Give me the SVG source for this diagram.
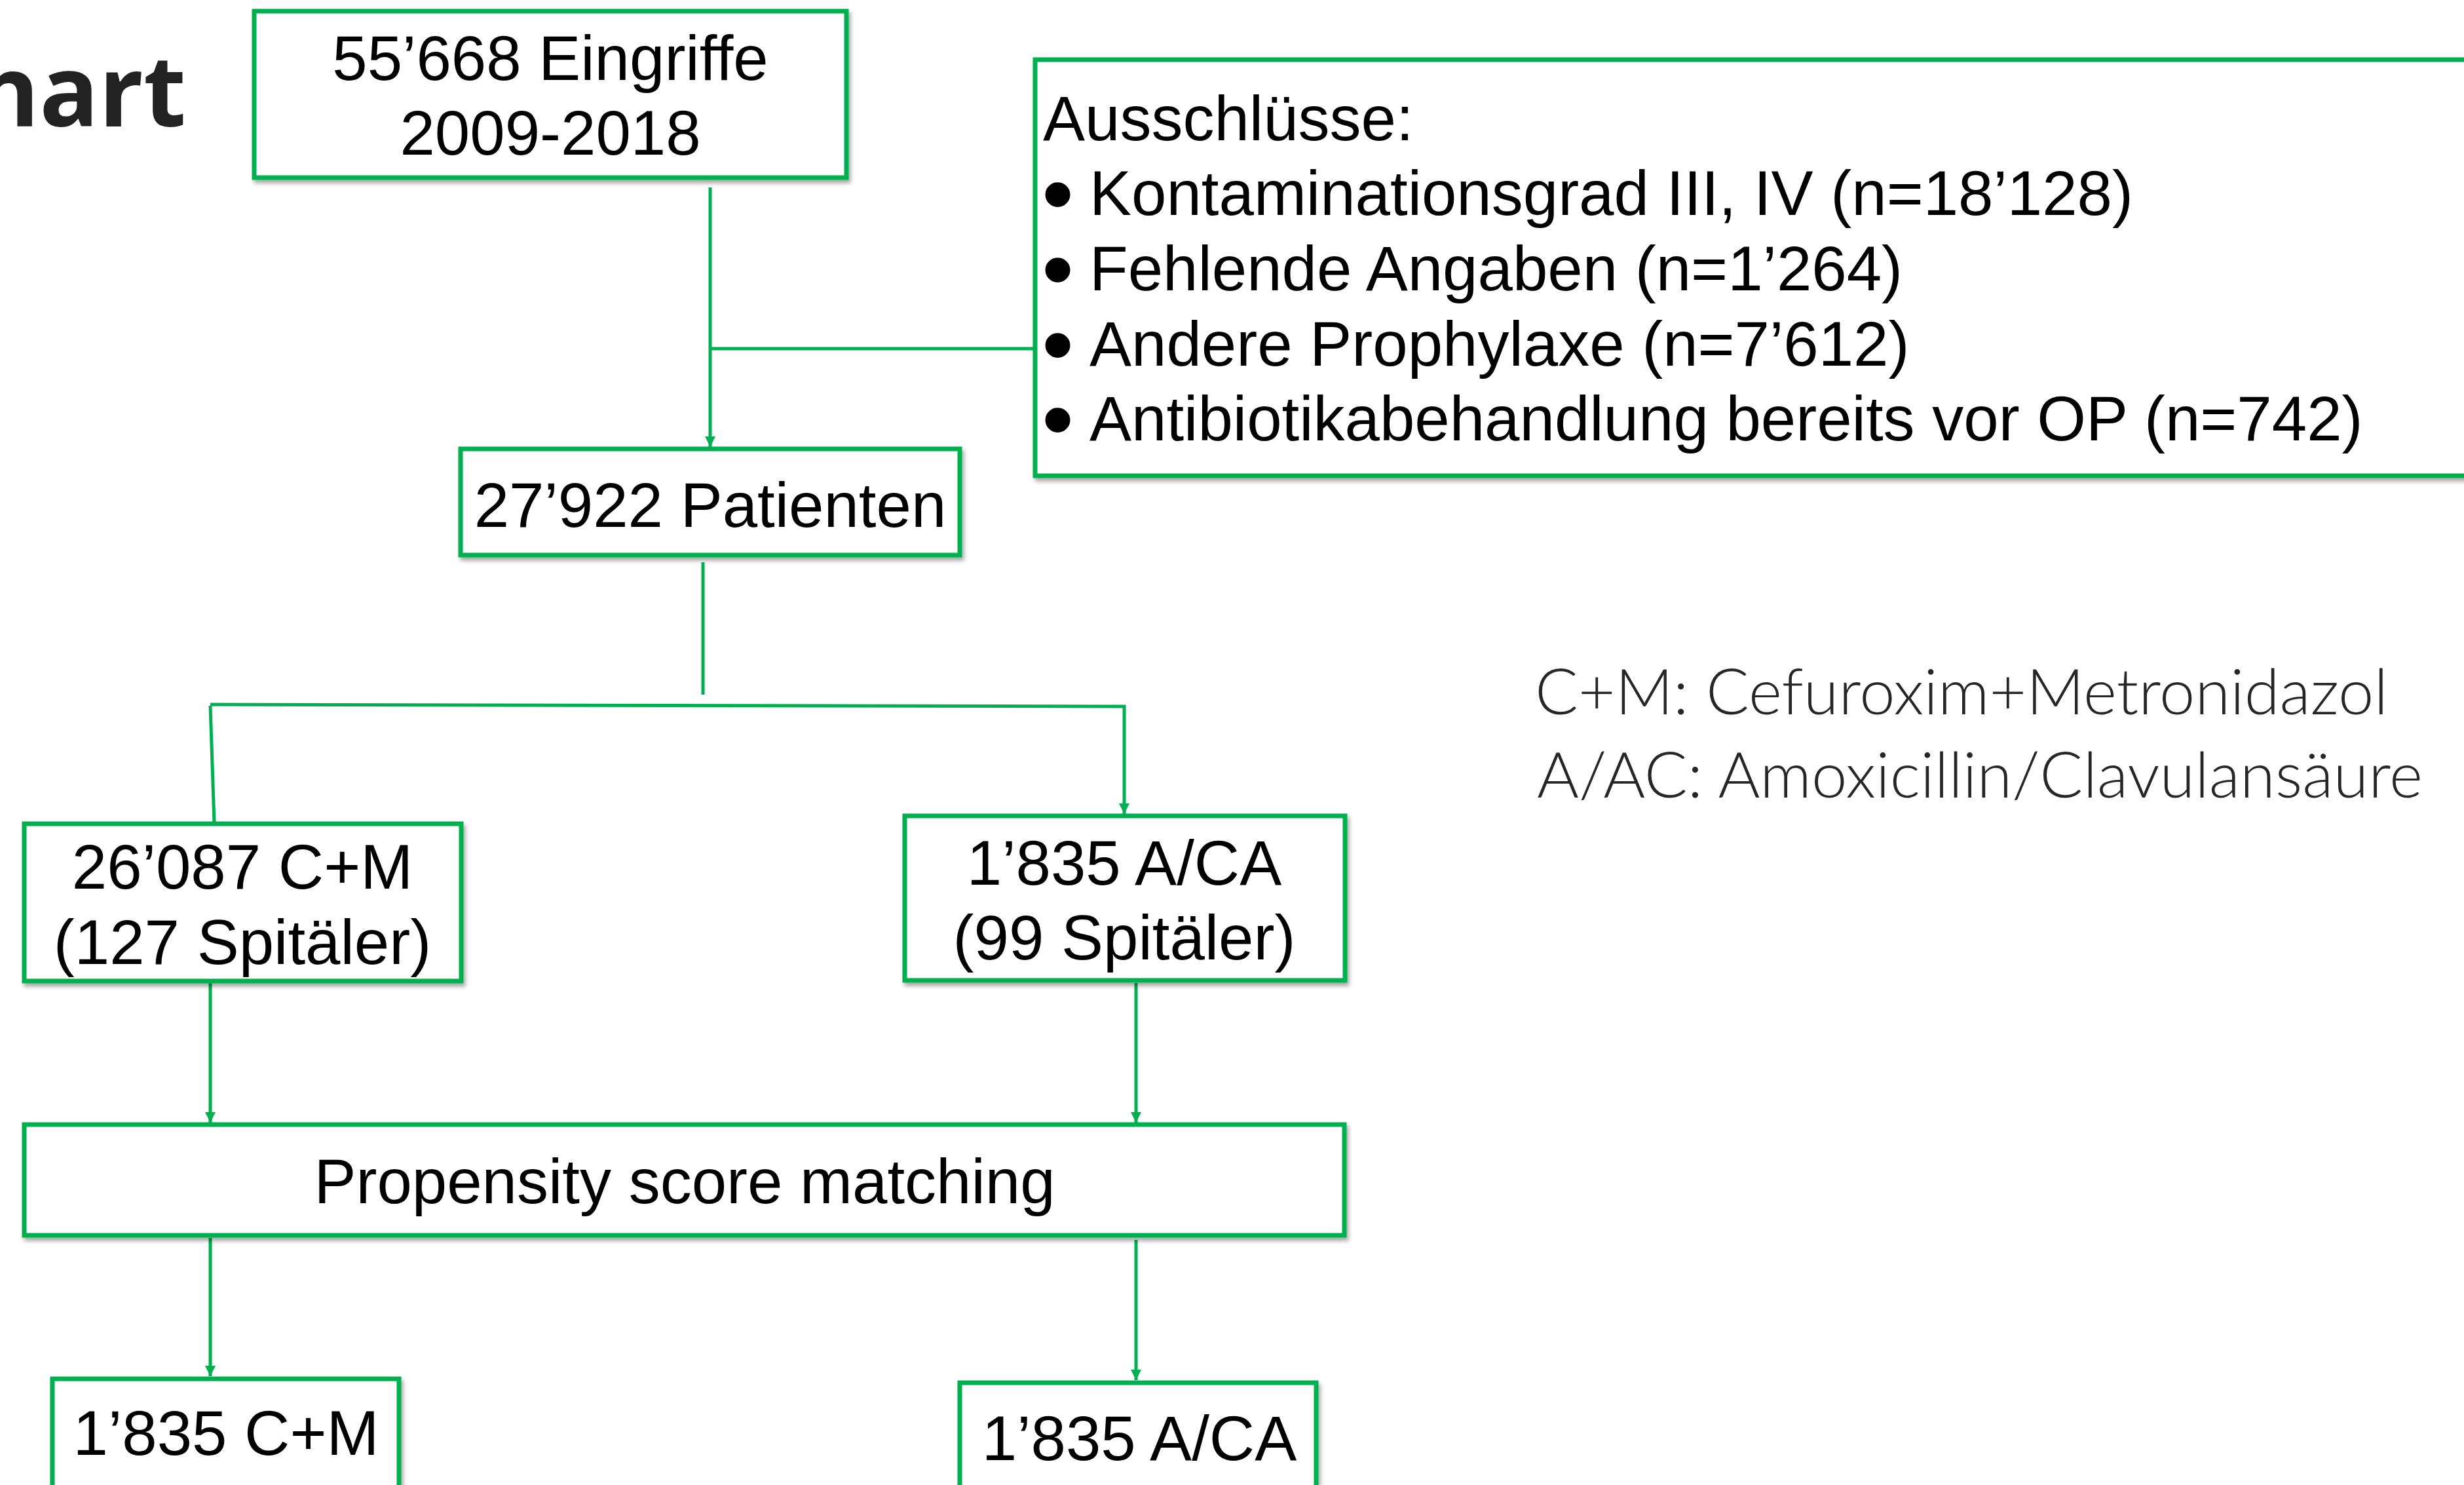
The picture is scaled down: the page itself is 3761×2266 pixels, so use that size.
<svg xmlns="http://www.w3.org/2000/svg" width="3761" height="2266" viewBox="0 0 3761 2266">
<style>
.box{fill:#ffffff;stroke:#00B050;stroke-width:7;filter:url(#sh)}
.t{font-family:"Liberation Sans",Arial,sans-serif;font-size:96px;fill:#000000}
.b{font-size:140px}
.c{text-anchor:middle}
.ln{fill:none;stroke:#00B050;stroke-width:5}
.leg{font-family:Lato,"Open Sans",sans-serif;font-weight:300;font-size:96px;fill:#262626}
.title{font-family:"Open Sans","Liberation Sans",sans-serif;font-weight:700;font-size:150px;fill:#222222}
</style>
<defs>
<filter id="sh" x="-5%" y="-10%" width="110%" height="130%">
<feDropShadow dx="3" dy="5" stdDeviation="3" flood-color="#000000" flood-opacity="0.35"/>
</filter>
<marker id="ah" viewBox="0 0 10 10" refX="10" refY="5" markerWidth="3.2" markerHeight="3.2" orient="auto" markerUnits="strokeWidth">
<path d="M0,0 L10,5 L0,10 z" fill="#00B050"/>
</marker>
</defs>
<rect width="3761" height="2266" fill="#ffffff"/>
<text class="title" x="284" y="193" text-anchor="end">hart</text>

<g id="connectors">
<line class="ln" x1="1084" y1="286" x2="1084" y2="682" marker-end="url(#ah)"/>
<line class="ln" x1="1084" y1="532" x2="1580" y2="532"/>
<line class="ln" x1="1073" y1="858" x2="1073" y2="1060"/>
<polyline class="ln" points="321,1075 1716,1078 1716,1242" marker-end="url(#ah)"/>
<line class="ln" x1="321" y1="1077" x2="327" y2="1256"/>
<line class="ln" x1="321" y1="1500" x2="321" y2="1713" marker-end="url(#ah)"/>
<line class="ln" x1="1734" y1="1500" x2="1734" y2="1713" marker-end="url(#ah)"/>
<line class="ln" x1="321" y1="1889" x2="321" y2="2100" marker-end="url(#ah)"/>
<line class="ln" x1="1734" y1="1892" x2="1734" y2="2106" marker-end="url(#ah)"/>
</g>

<g id="n-eingriffe">
<rect class="box" x="388" y="17" width="904" height="254"/>
<text class="t c" x="840" y="122">55’668 Eingriffe</text>
<text class="t c" x="840" y="236">2009-2018</text>
</g>

<g id="n-ausschluesse">
<rect class="box" x="1580" y="91" width="2220" height="635"/>
<text class="t" x="1592" y="214">Ausschlüsse:</text>
<text class="t" x="1590" y="343"><tspan class="b">•</tspan><tspan x="1663" y="328">Kontaminationsgrad III, IV (n=18’128)</tspan></text>
<text class="t" x="1590" y="458"><tspan class="b">•</tspan><tspan x="1663" y="443">Fehlende Angaben (n=1’264)</tspan></text>
<text class="t" x="1590" y="573"><tspan class="b">•</tspan><tspan x="1663" y="558">Andere Prophylaxe (n=7’612)</tspan></text>
<text class="t" x="1590" y="687"><tspan class="b">•</tspan><tspan x="1663" y="672">Antibiotikabehandlung bereits vor OP (n=742)</tspan></text>
</g>

<g id="n-patienten">
<rect class="box" x="703" y="685" width="762" height="162"/>
<text class="t c" x="1084" y="804">27’922 Patienten</text>
</g>

<g id="n-cm">
<rect class="box" x="37" y="1257" width="667" height="240"/>
<text class="t c" x="370" y="1356">26’087 C+M</text>
<text class="t c" x="370" y="1471">(127 Spitäler)</text>
</g>

<g id="n-aca">
<rect class="box" x="1381" y="1245" width="672" height="251"/>
<text class="t c" x="1716" y="1350">1’835 A/CA</text>
<text class="t c" x="1716" y="1464">(99 Spitäler)</text>
</g>

<g id="n-psm">
<rect class="box" x="37" y="1716" width="2015" height="169"/>
<text class="t c" x="1045" y="1836">Propensity score matching</text>
</g>

<g id="n-cm2">
<rect class="box" x="80" y="2104" width="529" height="220"/>
<text class="t c" x="345" y="2220">1’835 C+M</text>
</g>

<g id="n-aca2">
<rect class="box" x="1465" y="2110" width="544" height="220"/>
<text class="t c" x="1739" y="2228">1’835 A/CA</text>
</g>

<g id="legend">
<text class="leg" x="2343" y="1090" textLength="1302" lengthAdjust="spacingAndGlyphs">C+M: Cefuroxim+Metronidazol</text>
<text class="leg" x="2346" y="1217" textLength="1352" lengthAdjust="spacingAndGlyphs">A/AC: Amoxicillin/Clavulansäure</text>
</g>
</svg>
